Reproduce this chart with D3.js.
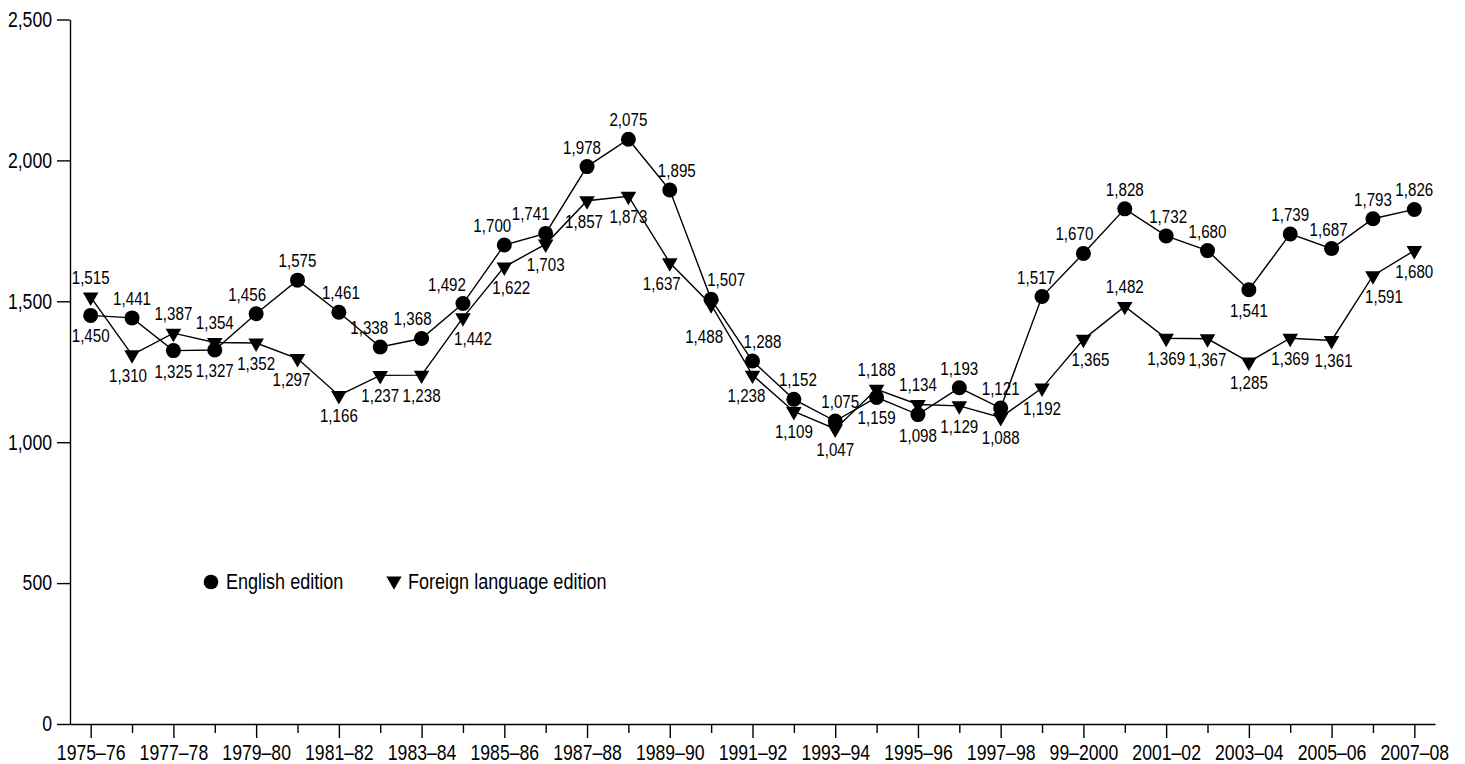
<!DOCTYPE html>
<html>
<head>
  <meta charset="utf-8">
  <script src="https://d3js.org/d3.v7.min.js"></script>
  <style>
    body { margin: 0; background: #fff; }
    svg text { font-family: "Liberation Sans", Arial, sans-serif; fill: #000; }
  </style>
</head>
<body>
<script>
// school years, one per point
var years = ["1975–76","1976–77","1977–78","1978–79","1979–80","1980–81","1981–82","1982–83",
  "1983–84","1984–85","1985–86","1986–87","1987–88","1988–89","1989–90","1990–91","1991–92",
  "1992–93","1993–94","1994–95","1995–96","1996–97","1997–98","1998–99","99–2000","2000–01",
  "2001–02","2002–03","2003–04","2004–05","2005–06","2006–07","2007–08"];

var english = [1450,1441,1325,1327,1456,1575,1461,1338,1368,1492,1700,1741,1978,2075,1895,1507,
  1288,1152,1075,1159,1098,1193,1121,1517,1670,1828,1732,1680,1541,1739,1687,1793,1826];

var foreign = [1515,1310,1387,1354,1352,1297,1166,1237,1238,1442,1622,1703,1857,1873,1637,1488,
  1238,1109,1047,1188,1134,1129,1088,1192,1365,1482,1369,1367,1285,1369,1361,1591,1680];

var yTicks = [0,500,1000,1500,2000,2500];

// where each value label sits: a = above, b = below, sideways nudge, extra drop
var englishLabelAt = [["b",0],["a",0],["b",0],["b",0],["a",-9],["a",0],["a",2],["a",-11],["a",-9],
  ["a",-16],["a",-12],["a",-15],["a",-5],["a",0],["a",7],["a",15],["a",10],["a",4],["a",5],["b",0],
  ["b",0],["a",0],["a",0],["a",-6],["a",-9],["a",0],["a",2],["a",0],["b",0],["a",0],["a",-3],["a",0],["a",0]];

var foreignLabelAt = [["a",0],["b",-4],["a",0],["a",0],["b",0],["b",-6],["b",0],["b",0],["b",0],
  ["b",10],["b",7],["b",0],["b",-3],["b",0],["b",-8],["b",-7,11],["b",-6],["b",0],["b",0],["a",0],
  ["a",0],["b",0],["b",0],["b",0],["b",7],["a",0],["b",0],["b",0],["b",0],["b",0],["b",2],["b",11],["b",0]];

var width = 1465, height = 764;

var svg = d3.select("body").append("svg")
  .attr("width", width)
  .attr("height", height);

// no narrow face installed, so squeeze the regular one
function narrow(sel) {
  sel.each(function() {
    var t = d3.select(this);
    var tx = +t.attr("x") || 0, ty = +t.attr("y") || 0;
    t.attr("x", 0).attr("y", 0)
      .attr("transform", "translate(" + tx + "," + ty + ") scale(0.82,1)");
  });
}

var x = d3.scalePoint().domain(years).range([70, 1435]).padding(0.5);
var y = d3.scaleLinear().domain([0, 2500]).range([724, 19.5]);
var fmt = d3.format(",");

// y axis
var yAxis = svg.append("g")
  .attr("transform", "translate(70,0)")
  .call(d3.axisLeft(y).tickValues(yTicks).tickFormat(fmt).tickSize(13).tickPadding(5).tickSizeOuter(0));
yAxis.selectAll("text").style("font-size", "21.5px").call(narrow);

// x axis, labels on every other year
var xAxis = svg.append("g")
  .attr("transform", "translate(0,724)")
  .call(d3.axisBottom(x).tickSize(14).tickPadding(6.5).tickSizeOuter(0)
    .tickFormat(function(d, i) { return i % 2 == 0 ? d : ""; }));
xAxis.selectAll("text").style("font-size", "21.5px").call(narrow);
xAxis.selectAll(".tick line").attr("y2", function(d, i) { return i % 2 == 0 ? 14 : 9; });
svg.selectAll(".domain, .tick line").attr("stroke", "#000").attr("stroke-width", 1.4);

var line = d3.line()
  .x(function(d, i) { return x(years[i]); })
  .y(function(d) { return y(d); });

function drawSeries(values, labelAt, isTriangle) {
  svg.append("path")
    .datum(values)
    .attr("fill", "none")
    .attr("stroke", "#000")
    .attr("stroke-width", 1.4)
    .attr("d", line);

  var g = svg.append("g");
  if (isTriangle) {
    g.selectAll("path").data(values).enter().append("path")
      .attr("d", d3.symbol().type(d3.symbolTriangle).size(105))
      .attr("transform", function(d, i) { return "translate(" + x(years[i]) + "," + y(d) + ") rotate(180)"; })
      .attr("fill", "#000");
  } else {
    g.selectAll("circle").data(values).enter().append("circle")
      .attr("cx", function(d, i) { return x(years[i]); })
      .attr("cy", function(d) { return y(d); })
      .attr("r", 7.5)
      .attr("fill", "#000");
  }

  svg.append("g").selectAll("text").data(values).enter().append("text")
    .attr("x", function(d, i) { return x(years[i]) + labelAt[i][1]; })
    .attr("y", function(d, i) {
      var p = labelAt[i];
      return y(d) + (p[0] == "a" ? -13 : 27) + (p[2] || 0);
    })
    .attr("text-anchor", "middle")
    .style("font-size", "18.5px")
    .text(fmt)
    .call(narrow);
}

drawSeries(english, englishLabelAt, false);
drawSeries(foreign, foreignLabelAt, true);

// legend
var legend = svg.append("g");
legend.append("circle").attr("cx", 211).attr("cy", 582).attr("r", 7.3).attr("fill", "#000");
legend.append("text").attr("x", 226).attr("y", 589).style("font-size", "22px").text("English edition");
legend.append("path")
  .attr("d", d3.symbol().type(d3.symbolTriangle).size(100))
  .attr("transform", "translate(394,581) rotate(180)")
  .attr("fill", "#000");
legend.append("text").attr("x", 408).attr("y", 589).style("font-size", "22px").text("Foreign language edition");
legend.selectAll("text").call(narrow);
</script>
</body>
</html>
